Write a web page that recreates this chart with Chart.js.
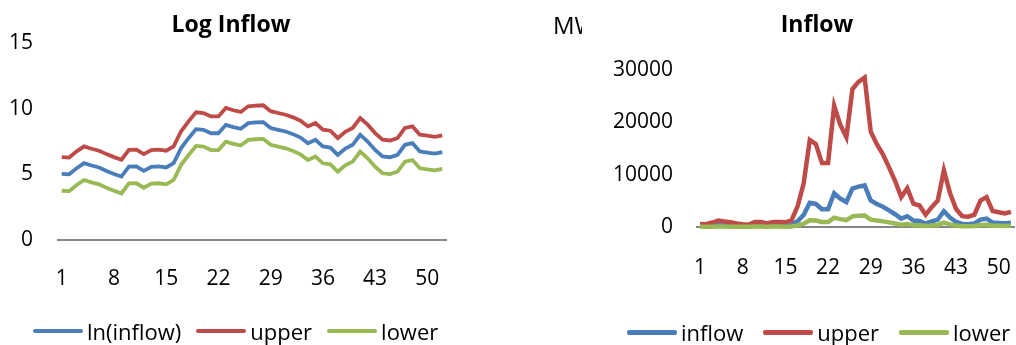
<!DOCTYPE html>
<html>
<head>
<meta charset="utf-8">
<title>Log Inflow / Inflow</title>
<script src="https://cdn.jsdelivr.net/npm/chart.js@4.4.1/dist/chart.umd.min.js"></script>
<style>
  html, body { margin: 0; padding: 0; background: #fff; }
  body { width: 1016px; height: 345px; position: relative; overflow: hidden;
         font-family: "Open Sans", "DejaVu Sans", sans-serif; color: #000; }
  canvas { position: absolute; top: 0; }
  .title { position: absolute; font-weight: bold; font-size: 23px; line-height: 26px;
           white-space: nowrap; transform: translate(-50%, -50%); }
  .unit { position: absolute; left: 553px; top: 10px; width: 29px; overflow: hidden;
          font-size: 24px; line-height: 30px; white-space: nowrap; }
  .legend { position: absolute; display: flex; align-items: center; font-size: 22px;
            line-height: 26px; white-space: nowrap; transform: translateY(-50%); }
  .legend .item { display: flex; align-items: center; }
  .legend .sw { display: inline-block; width: 50px; margin-right: 4px; border-radius: 2px; }
</style>
</head>
<body>
<canvas id="logChart" width="500" height="345" style="left:0;width:500px;height:345px"></canvas>
<canvas id="flowChart" width="516" height="345" style="left:500px;width:516px;height:345px"></canvas>
<div class="title" style="left:231px;top:23px">Log Inflow</div>
<div class="title" style="left:817px;top:23px">Inflow</div>
<div class="unit">MW</div>
<div class="legend" id="logLegend" style="left:33px;top:331px"></div>
<div class="legend" id="flowLegend" style="left:627px;top:332px"></div>
<script>
// Week numbers 1..52
const categories = [1,2,3,4,5,6,7,8,9,10,11,12,13,14,15,16,17,18,19,20,21,22,23,24,25,26,
  27,28,29,30,31,32,33,34,35,36,37,38,39,40,41,42,43,44,45,46,47,48,49,50,51,52];
const xTickLabels = ['1','8','15','22','29','36','43','50'];

// Log scale series
const logNames = ['ln(inflow)', 'upper', 'lower'];
const lnInflow = [5.03,5.00,5.47,5.85,5.67,5.52,5.26,5.03,4.83,5.59,5.60,5.26,5.57,5.60,5.52,5.85,
  7.00,7.75,8.44,8.39,8.13,8.13,8.77,8.60,8.47,8.90,8.95,8.98,8.53,8.39,8.26,8.06,7.80,7.37,7.63,
  7.12,7.04,6.48,6.96,7.25,8.01,7.50,6.86,6.36,6.30,6.48,7.25,7.37,6.74,6.66,6.58,6.69];
const lnUpper = [6.31,6.28,6.75,7.13,6.95,6.80,6.54,6.31,6.11,6.87,6.88,6.54,6.85,6.88,6.80,7.13,
  8.28,9.03,9.72,9.67,9.41,9.41,10.05,9.88,9.75,10.18,10.23,10.26,9.81,9.67,9.54,9.34,9.08,8.65,8.91,
  8.40,8.32,7.76,8.24,8.53,9.29,8.78,8.14,7.64,7.58,7.76,8.53,8.65,8.02,7.94,7.86,7.97];
const lnLower = [3.75,3.72,4.19,4.57,4.39,4.24,3.98,3.75,3.55,4.31,4.32,3.98,4.29,4.32,4.24,4.57,
  5.72,6.47,7.16,7.11,6.85,6.85,7.49,7.32,7.19,7.62,7.67,7.70,7.25,7.11,6.98,6.78,6.52,6.09,6.35,
  5.84,5.76,5.20,5.68,5.97,6.73,6.22,5.58,5.08,5.02,5.20,5.97,6.09,5.46,5.38,5.30,5.41];
const logTicks = [0, 5, 10, 15];

// Linear scale series (MW)
const flowNames = ['inflow', 'upper', 'lower'];
const inflow = [153,148,237,347,290,250,192,153,125,268,270,192,262,270,250,347,
  1097,2321,4629,4403,3395,3395,6438,5431,4770,7332,7709,7943,5065,4403,3866,3166,2441,1588,2059,
  1236,1142,652,1054,1408,3011,1808,953,578,545,652,1408,1588,846,781,720,804];
const upper = [550,532,852,1248,1043,899,691,550,450,964,971,691,942,971,899,1248,
  3946,8349,16650,15838,12212,12212,23157,19535,17157,26373,27729,28571,18219,15838,13906,11388,8780,5712,7406,
  4446,4108,2345,3791,5065,10831,6503,3428,2079,1960,2345,5065,5712,3043,2809,2590,2892];
const lower = [43,41,66,96,81,70,53,43,35,75,75,53,73,75,70,96,
  305,645,1287,1224,944,944,1790,1510,1326,2038,2143,2208,1408,1224,1075,880,679,441,572,
  344,317,181,293,391,837,503,265,161,152,181,391,441,235,217,200,224];
const flowTicks = [0, 10000, 20000, 30000];

const colors = ['#4a7ebb', '#be4b48', '#98b954'];

Chart.defaults.font.family = '"Open Sans", "DejaVu Sans", sans-serif';
Chart.defaults.color = '#000';

function buildChart(id, names, series, ticks, geo) {
  // later series are painted on top of earlier ones
  const datasets = series.map((values, i) => ({
    label: names[i],
    data: values,
    borderColor: colors[i],
    backgroundColor: colors[i],
    borderWidth: geo.lineWidth,
    pointRadius: 0,
    tension: 0,
    fill: false,
    clip: false,
    order: series.length - i
  }));
  return new Chart(document.getElementById(id), {
    type: 'line',
    data: { labels: categories.map(String), datasets },
    options: {
      responsive: false,
      animation: false,
      events: [],
      layout: { padding: geo.padding },
      plugins: { legend: { display: false }, title: { display: false }, tooltip: { enabled: false } },
      scales: {
        x: {
          type: 'category',
          offset: true,
          // invisible tick marks push the labels down below the axis line
          grid: { display: true, drawOnChartArea: false, drawTicks: true,
                  tickLength: geo.xGap, tickColor: 'rgba(0,0,0,0)' },
          border: { display: true, color: '#868686', width: 2 },
          ticks: {
            autoSkip: false, maxRotation: 0, padding: 0,
            font: { size: 21 },
            callback: function (value) {
              const lab = this.getLabelForValue(value);
              return xTickLabels.includes(lab) ? lab : '';
            }
          },
          afterFit: s => { s.height = 60; }
        },
        y: {
          min: ticks[0], max: ticks[ticks.length - 1],
          grid: { display: false, drawTicks: false },
          border: { display: false },
          ticks: {
            stepSize: ticks[1] - ticks[0], padding: geo.yPad, font: { size: 21 },
            callback: v => String(v)
          },
          afterFit: s => { s.width = geo.yWidth; }
        }
      }
    }
  });
}

function buildLegend(id, names, swatchHeight, gap) {
  const host = document.getElementById(id);
  names.forEach((name, i) => {
    const item = document.createElement('div');
    item.className = 'item';
    item.style.marginRight = gap + 'px';
    const sw = document.createElement('span');
    sw.className = 'sw';
    sw.style.height = swatchHeight + 'px';
    sw.style.background = colors[i];
    const txt = document.createElement('span');
    txt.textContent = name;
    item.appendChild(sw);
    item.appendChild(txt);
    host.appendChild(item);
  });
}

buildChart('logChart', logNames, [lnInflow, lnUpper, lnLower], logTicks, {
  padding: { left: 0, top: 43, right: 54, bottom: 45 },
  yWidth: 58, yPad: 25, xGap: 26, lineWidth: 3.8
});
buildChart('flowChart', flowNames, [inflow, upper, lower], flowTicks, {
  padding: { left: 0, top: 70, right: 2, bottom: 58 },
  yWidth: 197, yPad: 24, xGap: 28, lineWidth: 4.5
});
buildLegend('logLegend', logNames, 4, 15);
buildLegend('flowLegend', flowNames, 5, 20);
</script>
</body>
</html>
